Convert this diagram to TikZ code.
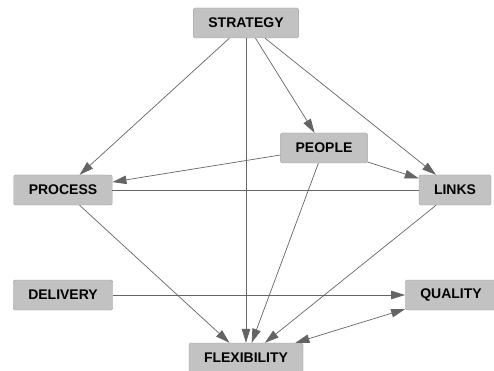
\documentclass[tikz,border=0pt]{standalone}
\usepackage{fontspec}
\setmainfont{Liberation Sans}
\usetikzlibrary{arrows.meta}
\definecolor{boxgray}{RGB}{194,194,194}
\definecolor{boxedge}{RGB}{160,160,160}
\definecolor{linkgray}{RGB}{100,100,100}
\begin{document}
\begin{tikzpicture}[x=1pt, y=-1pt,
    factor/.style = {draw = boxedge, fill = boxgray, rounded corners = 1.5pt,
      minimum height = 30pt, inner xsep = 15pt,
      font = \fontsize{14}{16}\selectfont\bfseries},
    link/.style = {draw = linkgray, line width = 0.7pt},
    tip/.tip = {Triangle[length = 14pt, width = 8.5pt]},
    arr/.style = {link, -tip},
    twoway/.style = {link, tip-tip}]
      \useasboundingbox (0, 0) rectangle (494, 371);

      \node [factor] (strategy) at (246, 23) {STRATEGY};
      \node [factor] (people) at (324, 148) {PEOPLE};
      \node [factor] (process) at (63, 190) {PROCESS};
      \node [factor] (links) at (455, 190) {LINKS};
      \node [factor] (delivery) at (63, 295) {DELIVERY};
      \node [factor] (quality) at (451, 295) {QUALITY};
      \node [factor] (flex) at (246, 358) {FLEXIBILITY};

      \draw [arr] (strategy) -- (process);
      \draw [arr] (strategy) -- (flex);
      \draw [arr] (strategy) -- (people);
      \draw [arr] (strategy) -- (links);
      \draw [arr] (people) -- (process);
      \draw [arr] (people) -- (links);
      \draw [arr] (people) -- (flex);
      \draw [link] (process) -- (links);
      \draw [arr] (process) -- (flex);
      \draw [arr] (links) -- (flex);
      \draw [arr] (delivery) -- (quality);
      \draw [twoway] (flex) -- (quality);
    \end{tikzpicture}
\end{document}
